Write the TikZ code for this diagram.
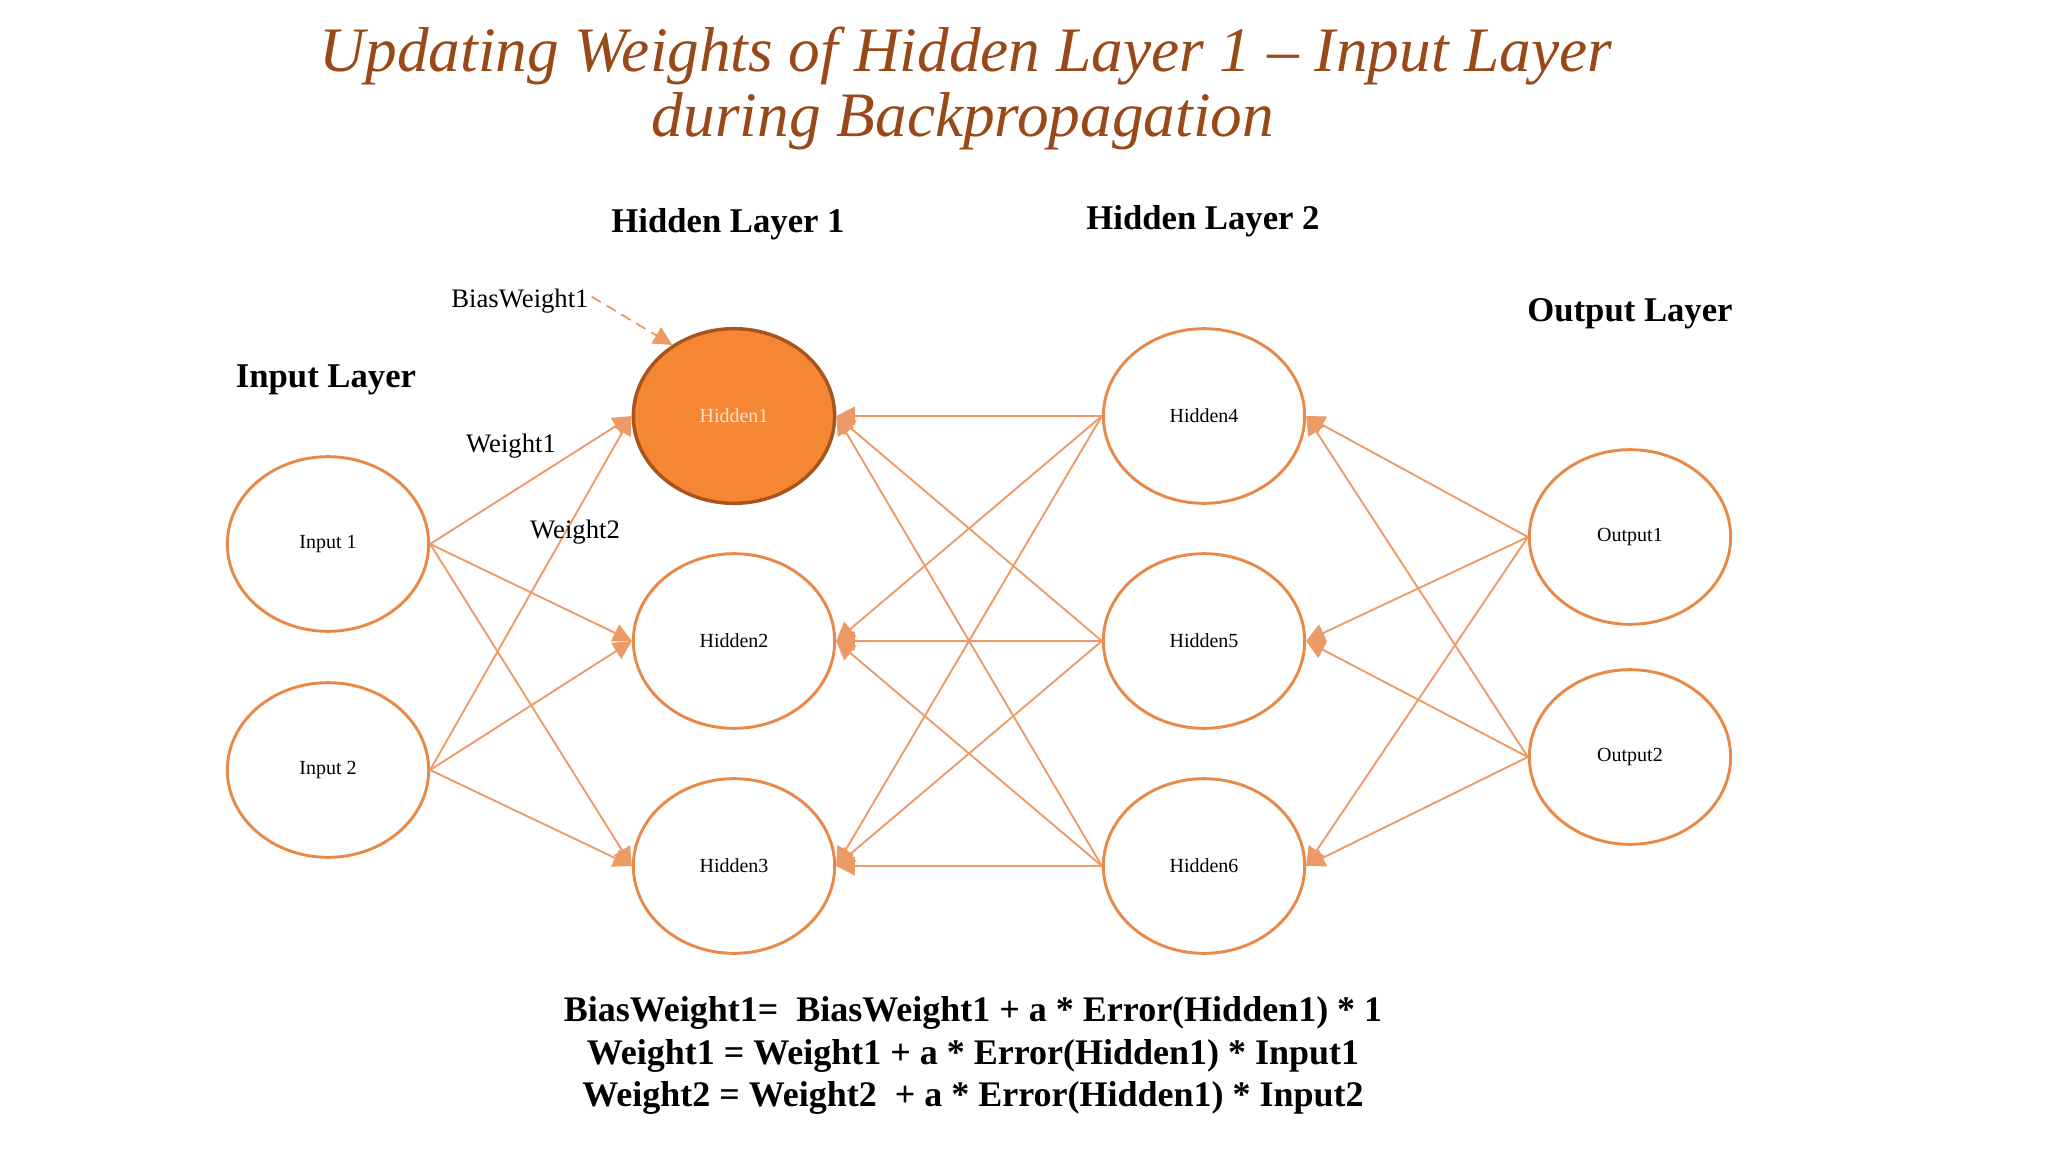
\documentclass[tikz,border=0pt]{standalone}
\usepackage{fontspec}
\setmainfont{Liberation Serif}
\usetikzlibrary{shapes.geometric,arrows.meta}

\definecolor{nodeline}{RGB}{232,137,72}
\definecolor{linkorange}{RGB}{236,154,102}
\definecolor{activefill}{RGB}{245,134,52}
\definecolor{activeline}{RGB}{168,84,30}
\definecolor{titlebrown}{RGB}{153,72,23}

\tikzset{every picture/.style={line width=0.75pt}}
\tikzset{
  neuron/.style={draw=nodeline, ellipse, line width=2.2pt, minimum width=151pt, minimum height=131pt, inner sep=0pt, font=\fontsize{15}{17}\selectfont},
  link/.style={draw=linkorange, line width=1.4pt, -{Triangle[length=14pt,width=14pt]}},
  layerlbl/.style={anchor=base, inner sep=0pt, font=\fontsize{26}{30}\selectfont\bfseries},
  wlbl/.style={anchor=base, inner sep=0pt, font=\fontsize{20}{24}\selectfont},
  eqline/.style={anchor=base, inner sep=0pt, font=\fontsize{27}{32}\selectfont\bfseries},
}

\begin{document}
\begin{tikzpicture}[x=0.75pt,y=0.75pt,yscale=-1,xscale=1]
\path[use as bounding box] (0,0) rectangle (2048,1152);

% Title
\draw (966,72) node [anchor=base, inner sep=0pt, text=titlebrown, font=\fontsize{47.5}{56}\selectfont\itshape] (ttlone) {Updating Weights of Hidden Layer 1 -- Input Layer};
\draw (963,137) node [anchor=base, inner sep=0pt, text=titlebrown, font=\fontsize{47.5}{56}\selectfont\itshape] (ttltwo) {during Backpropagation};

% Layer names
\draw (326,387) node [layerlbl] (inlbl) {Input Layer};
\draw (728,232) node [layerlbl] (hlone) {Hidden Layer 1};
\draw (1203,229) node [layerlbl] (hltwo) {Hidden Layer 2};
\draw (1630,321) node [layerlbl] (outlbl) {Output Layer};

%Shape: Ellipse -- input layer
\draw (328,544) node [neuron] (i1) {Input 1};
\draw (328,770) node [neuron] (i2) {Input 2};
%Shape: Ellipse -- hidden layer 1
\draw (734,416) node [neuron, fill=activefill, draw=activeline, line width=2.6pt, text={rgb,255:red,252;green,228;blue,208}] (h1) {Hidden1};
\draw (734,641) node [neuron] (h2) {Hidden2};
\draw (734,866) node [neuron] (h3) {Hidden3};
%Shape: Ellipse -- hidden layer 2
\draw (1204,416) node [neuron] (h4) {Hidden4};
\draw (1204,641) node [neuron] (h5) {Hidden5};
\draw (1204,866) node [neuron] (h6) {Hidden6};
%Shape: Ellipse -- output layer
\draw (1630,537) node [neuron] (o1) {Output1};
\draw (1630,757) node [neuron] (o2) {Output2};

% Input -> hidden layer 1
\draw [link] (i1.east) -- (h1.west);
\draw [link] (i1.east) -- (h2.west);
\draw [link] (i1.east) -- (h3.west);
\draw [link] (i2.east) -- (h1.west);
\draw [link] (i2.east) -- (h2.west);
\draw [link] (i2.east) -- (h3.west);

% Hidden layer 2 -> hidden layer 1
\draw [link] (h4.west) -- (h1.east);
\draw [link] (h4.west) -- (h2.east);
\draw [link] (h4.west) -- (h3.east);
\draw [link] (h5.west) -- (h1.east);
\draw [link] (h5.west) -- (h2.east);
\draw [link] (h5.west) -- (h3.east);
\draw [link] (h6.west) -- (h1.east);
\draw [link] (h6.west) -- (h2.east);
\draw [link] (h6.west) -- (h3.east);

% Output -> hidden layer 2
\draw [link] (o1.west) -- (h4.east);
\draw [link] (o1.west) -- (h5.east);
\draw [link] (o1.west) -- (h6.east);
\draw [link] (o2.west) -- (h4.east);
\draw [link] (o2.west) -- (h5.east);
\draw [link] (o2.west) -- (h6.east);

% Weight labels
\draw (520,307) node [wlbl] (biaslbl) {BiasWeight1};
\draw (511,452) node [wlbl] (wonelbl) {Weight1};
\draw (575,538) node [wlbl] (wtwolbl) {Weight2};
\draw [link, dash pattern=on 8pt off 5pt] ([xshift=2pt,yshift=-3pt]biaslbl.east) -- (h1.131);

% Update rules
\draw (973,1021) node [eqline] (eqbias) {BiasWeight1= \ BiasWeight1 + a * Error(Hidden1) * 1};
\draw (973,1064) node [eqline] (eqwone) {Weight1 = Weight1 + a * Error(Hidden1) * Input1};
\draw (973,1106) node [eqline] (eqwtwo) {Weight2 = Weight2 \ + a * Error(Hidden1) * Input2};

\end{tikzpicture}
\end{document}
